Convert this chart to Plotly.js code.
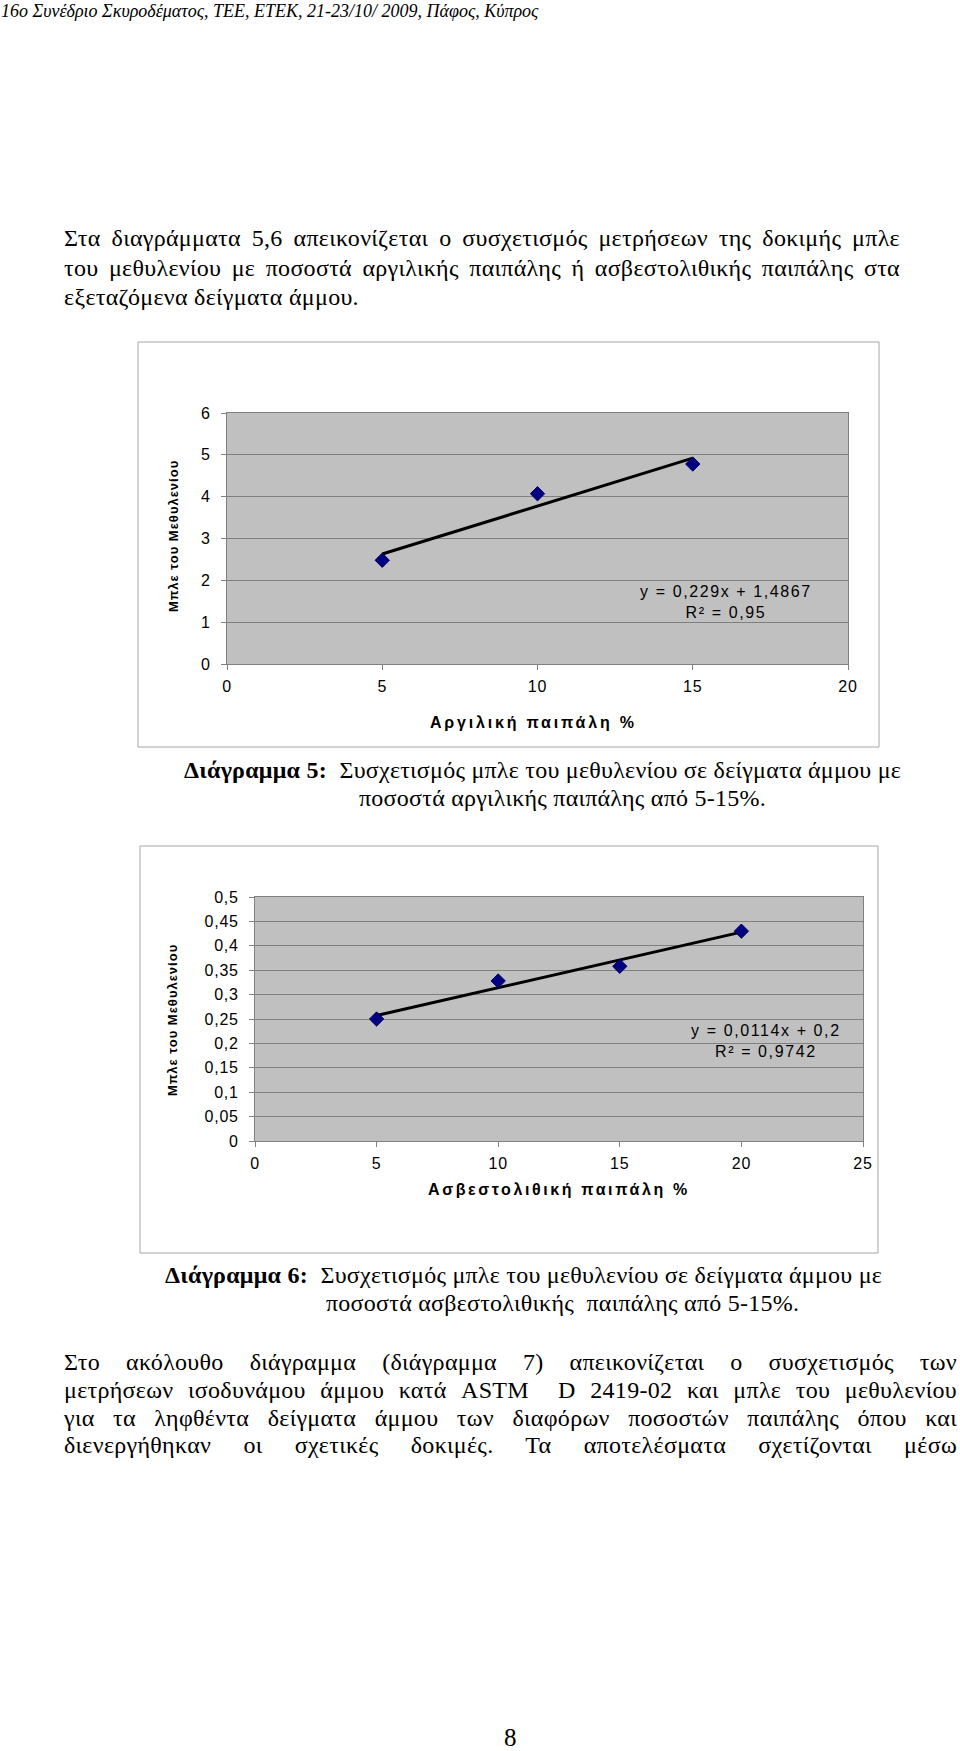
<!DOCTYPE html>
<html><head><meta charset="utf-8">
<script src="https://cdn.plot.ly/plotly-3.0.1.min.js"></script>
<style>
html,body{margin:0;padding:0;background:#fff;}
#page{position:relative;width:960px;height:1751px;overflow:hidden;background:#fff;}
#plot{position:absolute;left:0;top:0;width:960px;height:1751px;}
.t{position:absolute;font-family:"Liberation Serif","Times New Roman",serif;font-size:24px;letter-spacing:0.3px;line-height:28px;color:#000;white-space:nowrap;z-index:5;}
.c{font-size:24px;letter-spacing:0.25px;line-height:28px;}
.xtick text,.ytick text,.x2tick text,.y2tick text{letter-spacing:0.8px;}
</style></head><body>
<div id="page">
<div id="plot"></div>
<div class="t" style="top:0px;left:1px;font-style:italic;font-size:18px;letter-spacing:0;line-height:22px;">16ο Συνέδριο Σκυροδέματος, ΤΕΕ, ΕΤΕΚ, 21-23/10/ 2009, Πάφος, Κύπρος</div>

<div class="t jl" data-w="836" style="top:224px;left:64px;"><span>Στα διαγράμματα 5,6 απεικονίζεται ο συσχετισμός μετρήσεων της δοκιμής μπλε</span></div>
<div class="t jl" data-w="836" style="top:254px;left:64px;"><span>του μεθυλενίου με ποσοστά αργιλικής παιπάλης ή ασβεστολιθικής παιπάλης στα</span></div>
<div class="t" style="top:283px;left:64px;">εξεταζόμενα δείγματα άμμου.</div>

<div class="t c" style="top:756px;left:184px;"><b>Διάγραμμα 5:</b>&nbsp; Συσχετισμός μπλε του μεθυλενίου σε δείγματα άμμου με</div>
<div class="t c" style="top:784px;left:359px;">ποσοστά αργιλικής παιπάλης από 5-15%.</div>

<div class="t c" style="top:1261px;left:165px;"><b>Διάγραμμα 6:</b>&nbsp; Συσχετισμός μπλε του μεθυλενίου σε δείγματα άμμου με</div>
<div class="t c" style="top:1289px;left:326px;">ποσοστά ασβεστολιθικής&nbsp; παιπάλης από 5-15%.</div>

<div class="t jl" data-w="893" style="top:1348px;left:64px;"><span>Στο ακόλουθο διάγραμμα (διάγραμμα 7) απεικονίζεται ο συσχετισμός των</span></div>
<div class="t jl" data-w="893" style="top:1376px;left:64px;"><span>μετρήσεων ισοδυνάμου άμμου κατά ASTM&nbsp; D 2419-02 και μπλε του μεθυλενίου</span></div>
<div class="t jl" data-w="893" style="top:1404px;left:64px;"><span>για τα ληφθέντα δείγματα άμμου των διαφόρων ποσοστών παιπάλης όπου και</span></div>
<div class="t jl" data-w="893" style="top:1431px;left:64px;"><span>διενεργήθηκαν οι σχετικές δοκιμές. Τα αποτελέσματα σχετίζονται μέσω</span></div>

<div class="t" style="top:1724px;left:504px;font-size:25px;">8</div>
</div>
<script>
// ---- Chart 5: clay filler ----
const clayPct = [5, 10, 15];
const mbClay = [2.48, 4.07, 4.78];
const trendClayX = [5, 15];
const trendClayY = [2.63, 4.92];
const clayEquation = 'y = 0,229x + 1,4867';
const clayR2 = 'R² = 0,95';
const clayXTicks = [0, 5, 10, 15, 20];
const clayYTicks = [0, 1, 2, 3, 4, 5, 6];
const clayYLabels = ['0', '1', '2', '3', '4', '5', '6'];
const clayXTitle = 'Αργιλική παιπάλη %';

// ---- Chart 6: limestone filler ----
const limePct = [5, 10, 15, 20];
const mbLime = [0.25, 0.328, 0.358, 0.43];
const trendLimeX = [5, 20];
const trendLimeY = [0.257, 0.428];
const limeEquation = 'y = 0,0114x + 0,2';
const limeR2 = 'R² = 0,9742';
const limeXTicks = [0, 5, 10, 15, 20, 25];
const limeYTicks = [0, 0.05, 0.1, 0.15, 0.2, 0.25, 0.3, 0.35, 0.4, 0.45, 0.5];
const limeYLabels = ['0', '0,05', '0,1', '0,15', '0,2', '0,25', '0,3', '0,35', '0,4', '0,45', '0,5'];
const limeXTitle = 'Ασβεστολιθική παιπάλη %';

const yTitle = 'Μπλε του Μεθυλενίου';

const W = 960, H = 1751;
const fx = p => p / W;
const fy = p => 1 - p / H;

const markerStyle = {symbol: 'diamond', size: 11, color: '#000080', line: {color: '#000060', width: 1}};
const lineStyle = {color: '#000000', width: 3};

const traces = [
  {x: trendClayX, y: trendClayY, type: 'scatter', mode: 'lines', line: lineStyle, xaxis: 'x', yaxis: 'y', hoverinfo: 'skip'},
  {x: clayPct, y: mbClay, type: 'scatter', mode: 'markers', marker: markerStyle, xaxis: 'x', yaxis: 'y'},
  {x: trendLimeX, y: trendLimeY, type: 'scatter', mode: 'lines', line: lineStyle, xaxis: 'x2', yaxis: 'y2', hoverinfo: 'skip'},
  {x: limePct, y: mbLime, type: 'scatter', mode: 'markers', marker: markerStyle, xaxis: 'x2', yaxis: 'y2'}
];

const sans = 'Liberation Sans, Arial, sans-serif';
const tickFont = {family: sans, size: 16, color: '#000'};
const axBase = {
  showgrid: false, zeroline: false, showline: true, mirror: true, linecolor: '#808080', linewidth: 1,
  ticks: 'outside', ticklen: 5, tickcolor: '#808080', tickfont: tickFont, fixedrange: true
};
const spaced = (s, px) => '<span style="letter-spacing:' + px + 'px">' + s + '</span>';

const layout = {
  width: W, height: H,
  margin: {l: 0, r: 0, t: 0, b: 0, pad: 0},
  paper_bgcolor: '#ffffff',
  plot_bgcolor: '#c0c0c0',
  showlegend: false,
  xaxis: Object.assign({}, axBase, {domain: [fx(227), fx(848)], range: [0, 20], anchor: 'y', tickmode: 'array', tickvals: clayXTicks, ticklabelstandoff: 3}),
  yaxis: Object.assign({}, axBase, {domain: [fy(664), fy(413)], range: [0, 6], anchor: 'x', tickmode: 'array', tickvals: clayYTicks, ticktext: clayYLabels, showgrid: true, gridcolor: '#808080', gridwidth: 1, ticklabelstandoff: 7}),
  xaxis2: Object.assign({}, axBase, {domain: [fx(255), fx(863)], range: [0, 25], anchor: 'y2', tickmode: 'array', tickvals: limeXTicks, ticklabelstandoff: 3}),
  yaxis2: Object.assign({}, axBase, {domain: [fy(1141), fy(897)], range: [0, 0.5], anchor: 'x2', tickmode: 'array', tickvals: limeYTicks, ticktext: limeYLabels, showgrid: true, gridcolor: '#808080', gridwidth: 1, ticklabelstandoff: 7}),
  shapes: [
    {type: 'rect', xref: 'paper', yref: 'paper', x0: fx(138), x1: fx(879), y0: fy(747), y1: fy(342), line: {color: '#a6a6a6', width: 1}, fillcolor: 'rgba(0,0,0,0)'},
    {type: 'rect', xref: 'paper', yref: 'paper', x0: fx(140), x1: fx(878), y0: fy(1253), y1: fy(846), line: {color: '#a6a6a6', width: 1}, fillcolor: 'rgba(0,0,0,0)'}
  ],
  annotations: [
    {xref: 'paper', yref: 'paper', x: fx(726), y: fy(602), text: spaced(clayEquation, 1.6) + '<br>' + spaced(clayR2, 1.6), showarrow: false, align: 'center', xanchor: 'center', yanchor: 'middle', font: {family: sans, size: 16, color: '#000'}},
    {xref: 'paper', yref: 'paper', x: fx(766), y: fy(1041), text: spaced(limeEquation, 1.6) + '<br>' + spaced(limeR2, 1.6), showarrow: false, align: 'center', xanchor: 'center', yanchor: 'middle', font: {family: sans, size: 16, color: '#000'}},
    {xref: 'paper', yref: 'paper', x: fx(173), y: fy(536), text: '<b>' + spaced(yTitle, 1) + '</b>', textangle: -90, showarrow: false, xanchor: 'center', yanchor: 'middle', font: {family: sans, size: 13, color: '#000'}},
    {xref: 'paper', yref: 'paper', x: fx(173), y: fy(1020), text: '<b>' + spaced(yTitle, 1) + '</b>', textangle: -90, showarrow: false, xanchor: 'center', yanchor: 'middle', font: {family: sans, size: 13, color: '#000'}},
    {xref: 'paper', yref: 'paper', x: fx(533), y: fy(723), text: '<b>' + spaced(clayXTitle, 2.8) + '</b>', showarrow: false, xanchor: 'center', yanchor: 'middle', font: {family: sans, size: 16, color: '#000'}},
    {xref: 'paper', yref: 'paper', x: fx(559), y: fy(1189), text: '<b>' + spaced(limeXTitle, 2.6) + '</b>', showarrow: false, xanchor: 'center', yanchor: 'middle', font: {family: sans, size: 16, color: '#000'}}
  ]
};

Plotly.newPlot('plot', traces, layout, {staticPlot: true, displayModeBar: false});

// justify single text lines to their target width by adjusting word spacing
function justifyLines() {
  document.querySelectorAll('.jl').forEach(el => {
    const span = el.firstElementChild;
    el.style.wordSpacing = '0px';
    const natural = span.getBoundingClientRect().width;
    const gaps = (span.textContent.match(/[ \u00a0]/g) || []).length;
    if (gaps > 0) el.style.wordSpacing = ((parseFloat(el.dataset.w) - natural) / gaps) + 'px';
  });
}
justifyLines();
if (document.fonts && document.fonts.ready) document.fonts.ready.then(justifyLines);
</script>
</body></html>
